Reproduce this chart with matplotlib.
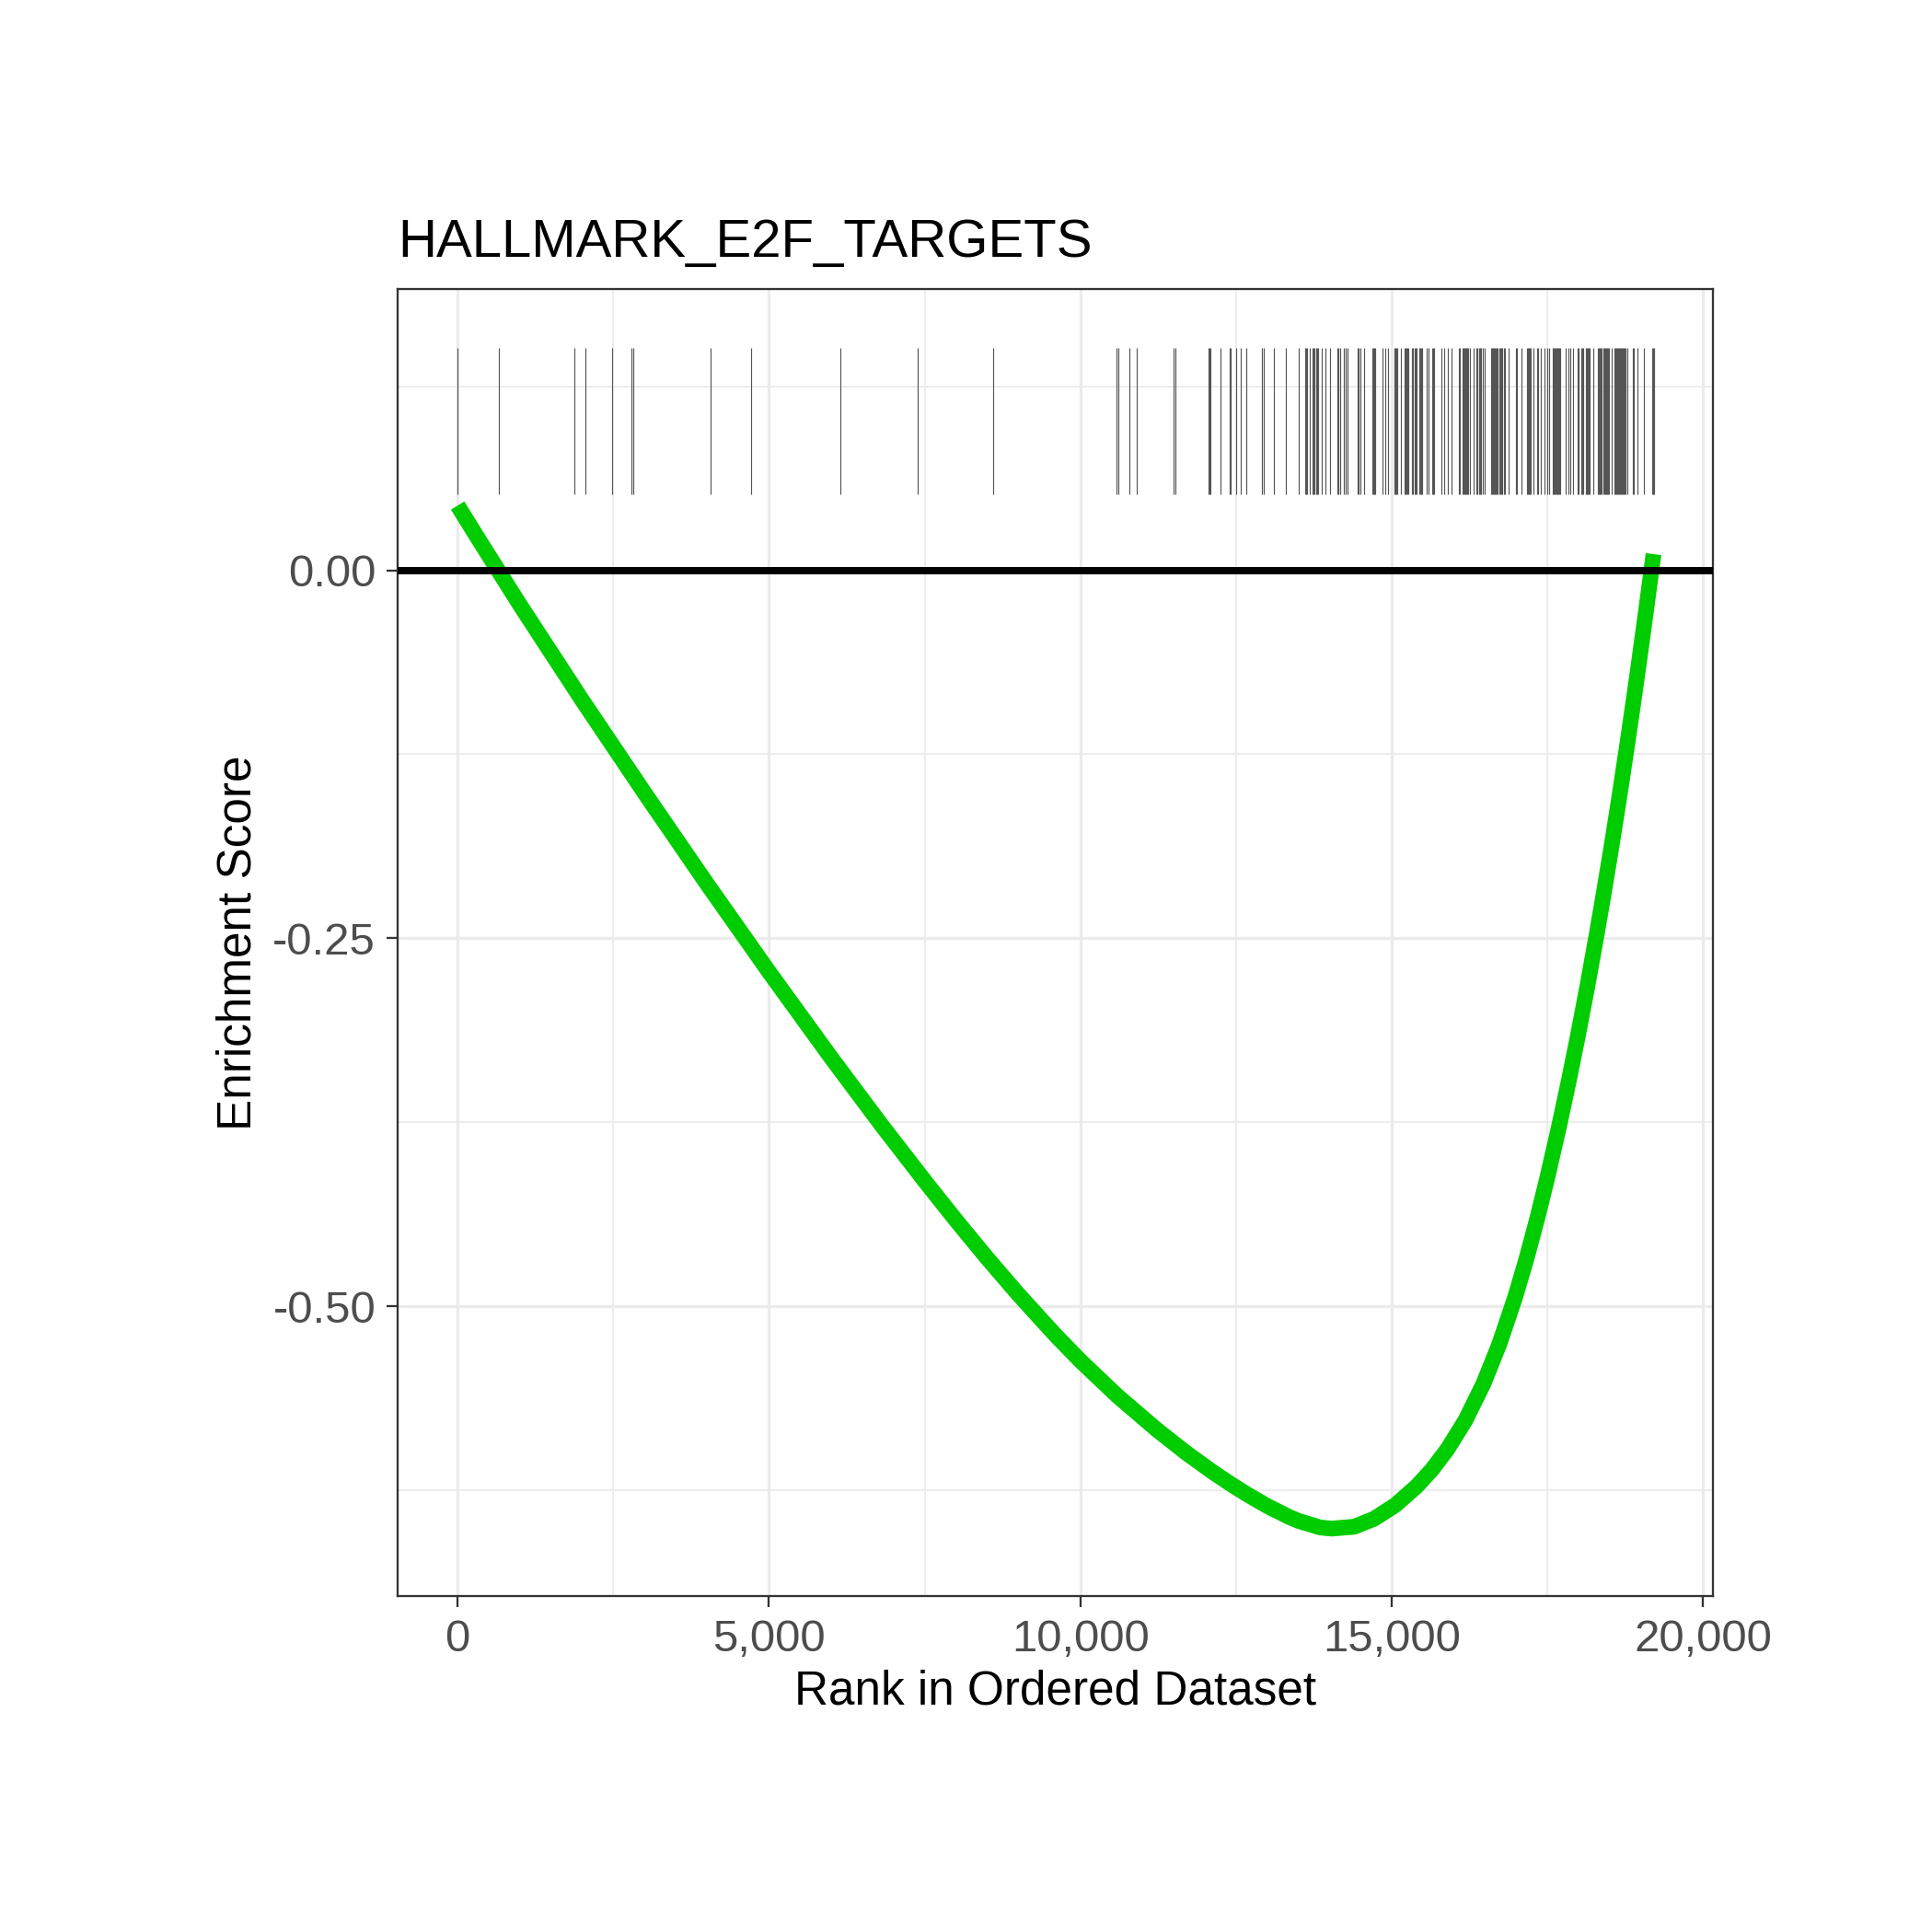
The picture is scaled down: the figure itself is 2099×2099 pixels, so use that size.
import matplotlib
matplotlib.use("Agg")
import matplotlib.pyplot as plt

# running enrichment score (rank, ES)
es_rank = [0, 316, 1000, 2000, 3000, 4000, 5000, 6000, 6818, 7500, 8000, 8500,
           9000, 9600, 10000, 10600, 11234, 11700, 12115, 12400, 12670, 13000,
           13344, 13500, 13850, 14036, 14400, 14718, 15060, 15400, 15647, 15894,
           16185, 16475, 16728, 16980, 17160, 17333, 17500, 17685, 17840, 17989,
           18140, 18292, 18410, 18533, 18650, 18773, 18880, 18978, 19090, 19205]
es_value = [0.044, 0.0224, -0.0235, -0.0883, -0.1512, -0.2128, -0.2729, -0.3313,
            -0.3776, -0.4149, -0.4415, -0.4672, -0.4918, -0.5197, -0.5371, -0.5612,
            -0.5842, -0.5997, -0.6124, -0.6205, -0.6277, -0.6358, -0.6431, -0.6459,
            -0.6504, -0.6512, -0.6499, -0.6445, -0.6352, -0.6225, -0.6111, -0.5973,
            -0.5775, -0.5526, -0.5259, -0.4943, -0.4685, -0.4412, -0.4126, -0.3784,
            -0.3478, -0.3166, -0.2832, -0.2475, -0.2184, -0.1869, -0.1556, -0.1212,
            -0.0901, -0.0607, -0.0259, 0.011]

# ranks of the gene-set members (rug)
hit_ranks = [
    1, 656, 1873, 2052, 2476, 2788, 2816, 4069, 4710, 6142, 7387, 8593,
    10585, 10605, 10794, 10910, 11494, 11533, 12063, 12078, 12093, 12248, 12400,
    12420, 12509, 12583, 12671, 12920, 12940, 13115, 13307,
    13501, 13617, 13632, 13647, 13681, 13725, 13740, 13755, 13784, 13799, 13814,
    13871, 13930, 14004, 14122, 14137, 14174, 14233, 14257, 14292, 14447, 14464,
    14501, 14558, 14696, 14711, 14726, 14740, 14851, 14893, 14940, 15041, 15056,
    15070, 15085, 15154, 15203, 15218, 15233, 15248, 15263, 15324, 15344, 15376,
    15391, 15405, 15440, 15455, 15470, 15484, 15558, 15595, 15647, 15662, 15677,
    15792, 15842, 15908, 15960, 16085, 16100, 16144, 16159, 16174, 16189, 16204,
    16218, 16233, 16263, 16310, 16356, 16371, 16411, 16425, 16440, 16470, 16489,
    16598, 16613, 16627, 16642, 16657, 16672, 16687, 16701, 16731, 16746, 16760,
    16775, 16805, 16824, 16874, 16992, 17012, 17078, 17169, 17184, 17199, 17214,
    17228, 17275, 17337, 17357, 17401, 17460, 17504, 17524, 17593, 17608, 17623,
    17637, 17652, 17667, 17682, 17696, 17711, 17800, 17832, 17874, 17916, 17987,
    18007, 18046, 18061, 18076, 18125, 18140, 18155, 18169, 18184, 18243, 18312,
    18327, 18342, 18357, 18371, 18401, 18416, 18431, 18445, 18460, 18475, 18490,
    18539, 18578, 18593, 18608, 18623, 18637, 18652, 18667, 18682, 18696, 18711,
    18726, 18741, 18755, 18785, 18874, 18894, 18953, 19056, 19180, 19199, 19219,
]

x_ticks = [0, 5000, 10000, 15000, 20000]
x_labels = ["0", "5,000", "10,000", "15,000", "20,000"]
x_minor = [2500, 7500, 12500, 17500]
y_ticks = [0.0, -0.25, -0.5]
y_labels = ["0.00", "-0.25", "-0.50"]
y_minor = [0.125, -0.125, -0.375, -0.625]

title = "HALLMARK_E2F_TARGETS"

plt.rcParams["font.family"] = ["Liberation Sans", "DejaVu Sans"]

fig = plt.figure(figsize=(2099 / 300, 2099 / 300), dpi=300)
ax = fig.add_axes([0.2060, 0.1739, 0.6808, 0.6764])

ax.vlines(hit_ranks, 0.0515, 0.1514, color="#555555", lw=0.28, zorder=2)
ax.plot(es_rank, es_value, color="#00cd00", lw=4.1, solid_capstyle="butt",
        solid_joinstyle="round", zorder=3)
ax.axhline(0, color="black", lw=1.9, zorder=4)

ax.set_xlim(-958, 20165)
ax.set_ylim(-0.697, 0.191)

ax.set_xticks(x_ticks)
ax.set_xticklabels(x_labels)
ax.set_xticks(x_minor, minor=True)
ax.set_yticks(y_ticks)
ax.set_yticklabels(y_labels)
ax.set_yticks(y_minor, minor=True)

ax.grid(which="major", color="#ebebeb", lw=0.77, zorder=0)
ax.grid(which="minor", color="#ebebeb", lw=0.43, zorder=0)
ax.set_axisbelow(True)

ax.tick_params(which="major", length=2.9, width=0.55, color="#333333",
               labelcolor="#4d4d4d", labelsize=11.8)
ax.tick_params(axis="x", which="major", pad=3.2)
ax.tick_params(axis="y", which="major", pad=2.9)
ax.tick_params(which="minor", length=0)

for sp in ax.spines.values():
    sp.set_color("#333333")
    sp.set_linewidth(0.55)

ax.set_xlabel("Rank in Ordered Dataset", fontsize=12.3, color="black")
ax.set_ylabel("Enrichment Score", fontsize=12.3, color="black")
ax.xaxis.set_label_coords(0.5, -0.056)
ax.yaxis.set_label_coords(-0.104, 0.5)
ax.xaxis.label.set_va("top")

fig.text(0.2058, 1 - 279 / 2099, title, fontsize=13.95, ha="left",
         va="baseline", color="black")

fig.savefig("out.png", dpi=300, facecolor="white")
